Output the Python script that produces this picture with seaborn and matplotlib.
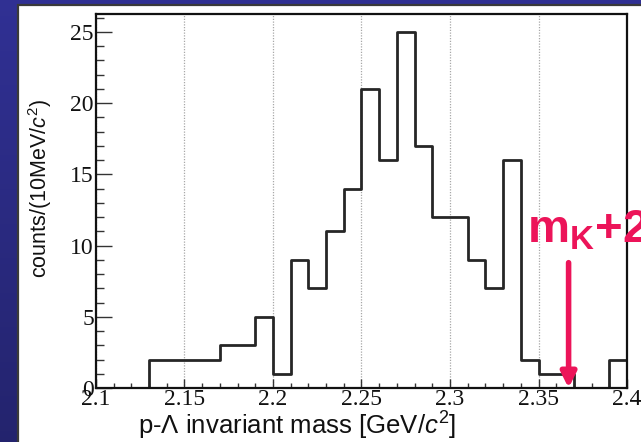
import numpy as np
import pandas as pd
import matplotlib
matplotlib.use("Agg")
import matplotlib.pyplot as plt
import seaborn as sns
from matplotlib.patches import Rectangle

# ---------------- data ----------------
bin_lo, bin_hi, n_bins = 2.10, 2.40, 30
counts = [0, 0, 0, 2, 2, 2, 2, 3, 3, 5,
          1, 9, 7, 11, 14, 21, 16, 25, 17, 12,
          12, 9, 7, 16, 2, 1, 1, 0, 0, 2]
x_ticks = [2.1, 2.15, 2.2, 2.25, 2.3, 2.35, 2.4]
x_tick_labels = ["2.1", "2.15", "2.2", "2.25", "2.3", "2.35", "2.4"]
y_ticks = [0, 5, 10, 15, 20, 25]
threshold_mass = 2.367
threshold_label = r"$\mathbf{m}_{\mathbf{K}}\mathbf{+2m}_{\mathbf{p}}$"
x_label = r"p-Λ invariant mass [GeV/$\mathit{c}^{2}$]"
y_label = r"counts/(10MeV/$\mathit{c}^{2}$)"

edges = np.linspace(bin_lo, bin_hi, n_bins + 1)
# step outline: each bin edge carries the count of the bin to its right
df = pd.DataFrame({"mass": edges, "count": counts + [counts[-1]]})

# ---------------- style ----------------
sns.set_style("ticks")
plt.rcParams["font.family"] = ["Liberation Sans", "DejaVu Sans"]
plt.rcParams["mathtext.fontset"] = "custom"
plt.rcParams["mathtext.rm"] = "Liberation Sans"
plt.rcParams["mathtext.it"] = "Liberation Sans:italic"
plt.rcParams["mathtext.bf"] = "Liberation Sans:bold"

W, H = 641, 442
fig = plt.figure(figsize=(W / 100, H / 100), dpi=100)
fig.patch.set_facecolor("#2a2a80")

# blue gradient backdrop
bg = fig.add_axes([0, 0, 1, 1], zorder=-10)
grad = np.linspace(0, 1, 256).reshape(-1, 1)
c_top = np.array([0.19, 0.19, 0.58])
c_bot = np.array([0.14, 0.14, 0.43])
img = c_top[None, None, :] * (1 - grad[:, :, None]) + c_bot[None, None, :] * grad[:, :, None]
bg.imshow(img, aspect="auto", extent=[0, 1, 0, 1])
bg.set_axis_off()

# white panel
fig.patches.append(Rectangle((18 / W, -0.01), 1.0, 1 - 5 / H + 0.01,
                             transform=fig.transFigure, facecolor="white",
                             edgecolor="#3a3a3a", linewidth=1.6, zorder=-5))

ax = fig.add_axes([96 / W, 1 - 388 / H, (627 - 96) / W, (388 - 14) / H])
ax.set_facecolor("white")

sns.lineplot(data=df, x="mass", y="count", estimator=None, sort=False,
             drawstyle="steps-post", color="#262626", linewidth=2.0, ax=ax)

ax.set_xlim(bin_lo, bin_hi)
ax.set_ylim(0, 26.26)
ax.set_xticks(x_ticks)
ax.set_xticklabels(x_tick_labels)
ax.set_yticks(y_ticks)
ax.set_xticks(edges, minor=True)
ax.set_yticks(np.arange(0, 27, 1), minor=True)

ax.xaxis.grid(True, which="major", linestyle=(0, (1, 1.2)), color="#a8a8a8", linewidth=0.9)
ax.set_axisbelow(True)

for lab in ax.get_xticklabels() + ax.get_yticklabels():
    lab.set_fontfamily("Liberation Serif")
    lab.set_fontsize(17)
    lab.set_color("#111111")

ax.tick_params(axis="y", which="major", direction="in", length=11.5, width=1.0, pad=1.5, color="#333333")
ax.tick_params(axis="y", which="minor", direction="in", length=5.8, width=1.0, color="#333333")
ax.tick_params(axis="x", which="major", direction="in", length=6.5, width=1.0, pad=0.5, color="#333333")
ax.tick_params(axis="x", which="minor", direction="in", length=3.6, width=1.0, color="#333333")

for s in ax.spines.values():
    s.set_linewidth(1.6)
    s.set_color("#111111")

ax.set_xlabel(x_label, fontsize=18.5, color="#111111")
ax.set_ylabel(y_label, fontsize=15.5, color="#111111")
ax.xaxis.set_label_coords((297 - 96) / 531, -(410 - 388) / 374)
ax.yaxis.set_label_coords(-(96 - 54) / 531, (388 - 188) / 374)

red = "#ec1459"
ax.annotate("", xy=(threshold_mass, 0.0), xytext=(threshold_mass, 8.8),
            arrowprops=dict(arrowstyle="-|>,head_length=0.9,head_width=0.45",
                            color=red, lw=4.0, shrinkA=0, shrinkB=0),
            annotation_clip=False)
ax.text(2.3435, 10.2, threshold_label, color=red, fontsize=34,
        ha="left", va="baseline", clip_on=False)

fig.savefig("out.png", dpi=100, facecolor=fig.get_facecolor())
